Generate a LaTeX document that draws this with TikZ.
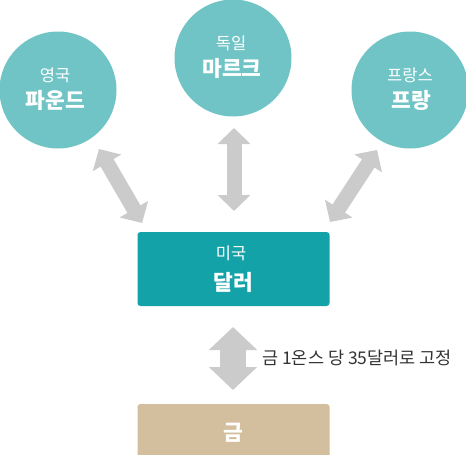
\documentclass[tikz,border=0pt]{standalone}
\usepackage{fontspec}
\setmainfont{Noto Sans CJK KR}
\usetikzlibrary{arrows.meta}
\definecolor{circ}{HTML}{71C4C6}
\definecolor{usd}{HTML}{12A2A7}
\definecolor{gold}{HTML}{D3BF9E}
\definecolor{arr}{HTML}{CBCBCB}
\tikzset{
  cur/.style={circle, fill=circ, minimum size=117pt, inner sep=0pt},
  box/.style={rectangle, rounded corners=3pt, minimum width=192pt, inner sep=0pt},
  smalltxt/.style={text=white, inner sep=0pt, font=\fontsize{16.5}{18}\selectfont},
  bigtxt/.style={text=white, inner sep=0pt, font=\fontsize{21.5}{24}\selectfont\bfseries},
  dbl/.style={draw=arr, line width=15pt, {Triangle[width=32pt,length=16pt]}-{Triangle[width=32pt,length=16pt]}},
  bigdbl/.style={draw=arr, line width=26pt, {Triangle[width=47pt,length=23pt]}-{Triangle[width=47pt,length=23pt]}}
}
\begin{document}
\begin{tikzpicture}[x=1pt,y=-1pt]
\useasboundingbox (0,0) rectangle (466,455);
\node[cur] (gbp) at (58,90) {};
\node[cur] (dem) at (233,58) {};
\node[cur] (frf) at (410,90) {};
\node[smalltxt] (gbpa) at (55,75) {영국};
\node[bigtxt] (gbpb) at (55.5,100) {파운드};
\node[smalltxt] (dema) at (231,43) {독일};
\node[bigtxt] (demb) at (232,68) {마르크};
\node[smalltxt] (frfa) at (410,75) {프랑스};
\node[bigtxt] (frfb) at (411,100) {프랑};
\node[box, fill=usd, minimum height=74pt] (usd) at (233.5,269) {};
\node[smalltxt] (usda) at (231,253) {미국};
\node[bigtxt] (usdb) at (233.5,282) {달러};
\node[box, fill=gold, minimum height=60pt] (au) at (233.5,434) {};
\node[bigtxt] (aua) at (233,433) {금};
\coordinate (l1) at (99,149);
\coordinate (l2) at (142,223);
\coordinate (m1) at (234,128);
\coordinate (m2) at (234,211);
\coordinate (r1) at (377,150);
\coordinate (r2) at (330,222);
\coordinate (b1) at (233,327);
\coordinate (b2) at (233,390);
\draw[dbl] (l1) -- (l2);
\draw[dbl] (m1) -- (m2);
\draw[dbl] (r1) -- (r2);
\draw[bigdbl] (b1) -- (b2);
\node[anchor=west, text=black!80, inner sep=0pt] (lab) at (262,358) {\fontsize{17.5}{19}\selectfont 금 1온스 당 35달러로 고정};
\end{tikzpicture}
\end{document}
